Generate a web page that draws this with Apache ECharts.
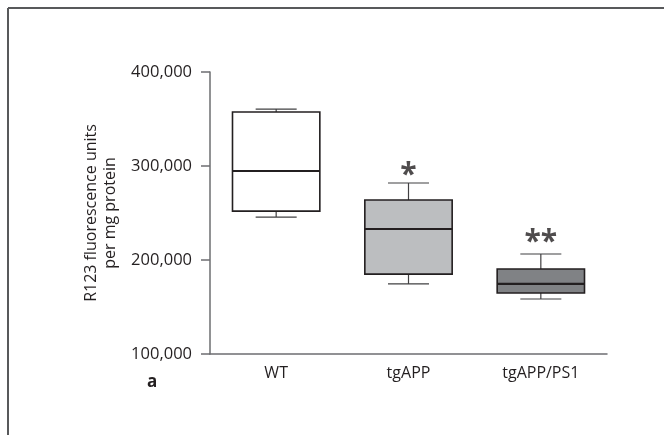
<!DOCTYPE html>
<html><head><meta charset="utf-8">
<script src="https://cdn.jsdelivr.net/npm/echarts@6/dist/echarts.min.js"></script>
<style>html,body{margin:0;padding:0;background:#fff}#c{width:664px;height:435px}</style>
</head><body><div id="c"></div>
<script>
var categories = ['WT', 'tgAPP', 'tgAPP/PS1'];
// [min, Q1, median, Q3, max]
var WT = [245700, 252000, 294700, 357400, 360600];
var tgAPP = [174500, 185000, 233000, 263800, 281900];
var tgAPP_PS1 = [158500, 164900, 174500, 190400, 206400];
var boxFills = ['#ffffff', '#bcbec0', '#808285'];
var sigLabels = ['', '*', '**'];
var sigPos = [null, 290000, 219000];
var yTicks = [100000, 200000, 300000, 400000];

var boxes = [WT, tgAPP, tgAPP_PS1];
var font = 'Open Sans';
var chart = echarts.init(document.getElementById('c'));
chart.setOption({
  animation: false,
  grid: {left: 210, right: 57, top: 72, bottom: 81},
  xAxis: {
    type: 'category', data: categories, boundaryGap: true,
    axisLine: {lineStyle: {color: '#6d6e71', width: 1.5}},
    axisTick: {show: false},
    axisLabel: {color: '#231f20', fontSize: 16, fontFamily: font, margin: 11}
  },
  yAxis: {
    type: 'value', min: 100000, max: 400000, interval: 100000,
    name: 'R123 fluorescence units\nper mg protein',
    nameLocation: 'middle', nameGap: 66, nameRotate: 90,
    nameTextStyle: {color: '#231f20', fontSize: 16, fontFamily: font, lineHeight: 19},
    axisLine: {show: true, lineStyle: {color: '#6d6e71', width: 1.5}},
    axisTick: {show: true, inside: false, length: 9, lineStyle: {color: '#6d6e71', width: 1.5}},
    splitLine: {show: false},
    axisLabel: {color: '#231f20', fontSize: 16.5, fontFamily: font, margin: 18,
      formatter: function (v) { return v.toLocaleString('en-US'); }}
  },
  graphic: [
    {type: 'line', shape: {x1: 8, y1: 8, x2: 670, y2: 8}, style: {stroke: '#58595b', lineWidth: 2}},
    {type: 'line', shape: {x1: 8, y1: 8, x2: 8, y2: 440}, style: {stroke: '#58595b', lineWidth: 2}},
    {type: 'text', left: 147, top: 374, style: {text: 'a', font: 'bold 17px "Open Sans"', fill: '#231f20'}}
  ],
  series: [{
    type: 'custom',
    data: boxes.map(function (b, i) { return [i].concat(b); }),
    renderItem: function (params, api) {
      var i = api.value(0);
      var bw = api.size([1, 0])[0];
      var half = bw * 0.33;
      var capHalf = bw * 0.155;
      var x = api.coord([i, 0])[0];
      var yMin = api.coord([i, api.value(1)])[1];
      var yQ1 = api.coord([i, api.value(2)])[1];
      var yMed = api.coord([i, api.value(3)])[1];
      var yQ3 = api.coord([i, api.value(4)])[1];
      var yMax = api.coord([i, api.value(5)])[1];
      var wl = {stroke: '#414042', lineWidth: 1.2};
      return {type: 'group', children: [
        {type: 'line', shape: {x1: x, y1: yQ3, x2: x, y2: yMax}, style: wl},
        {type: 'line', shape: {x1: x, y1: yQ1, x2: x, y2: yMin}, style: wl},
        {type: 'line', shape: {x1: x - capHalf, y1: yMax, x2: x + capHalf, y2: yMax}, style: wl},
        {type: 'line', shape: {x1: x - capHalf, y1: yMin, x2: x + capHalf, y2: yMin}, style: wl},
        {type: 'rect', shape: {x: x - half, y: yQ3, width: half * 2, height: yQ1 - yQ3},
          style: {fill: boxFills[i], stroke: '#231f20', lineWidth: 1.6}},
        {type: 'line', shape: {x1: x - half, y1: yMed, x2: x + half, y2: yMed},
          style: {stroke: '#231f20', lineWidth: 2.2}}
      ]};
    }
  }, {
    type: 'scatter',
    symbolSize: 0,
    data: sigPos.map(function (v, i) { return v === null ? null : [i, v]; }).filter(function (d) { return d; }),
    label: {show: true, position: 'inside', color: '#231f20', fontSize: 30, fontWeight: 'bold', fontFamily: font,
      formatter: function (p) { return sigLabels[p.data[0]]; }}
  }]
});
</script></body></html>
